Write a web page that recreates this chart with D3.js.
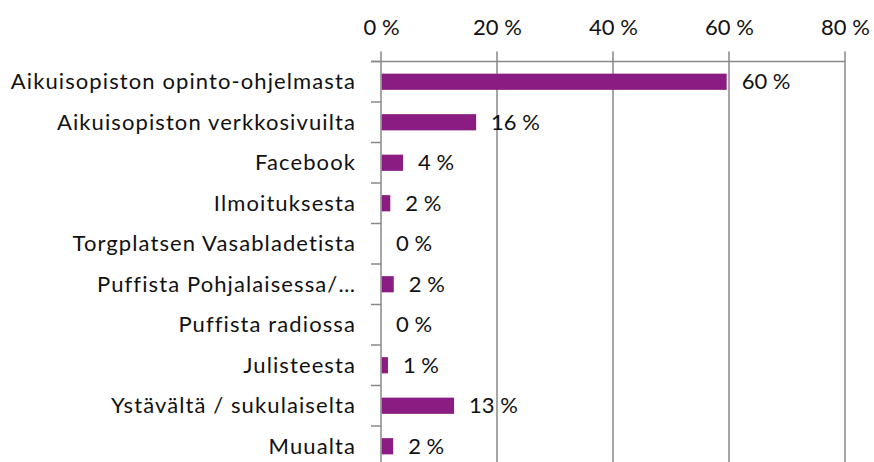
<!DOCTYPE html>
<html>
<head>
<meta charset="utf-8">
<script src="https://cdn.jsdelivr.net/npm/d3@7"></script>
<style>
  body { margin: 0; background: #fff; }
  svg text { font-family: Lato, "Open Sans", sans-serif; fill: #111; }
</style>
</head>
<body>
<script>
const categories = [
    "Aikuisopiston opinto-ohjelmasta",
    "Aikuisopiston verkkosivuilta",
    "Facebook",
    "Ilmoituksesta",
    "Torgplatsen Vasabladetista",
    "Puffista Pohjalaisessa/\u2026",
    "Puffista radiossa",
    "Julisteesta",
    "Ystävältä / sukulaiselta",
    "Muualta"
];
const values = [59.6, 16.4, 3.8, 1.6, 0, 2.2, 0, 1.2, 12.6, 2.1];
const xTicks = [0, 20, 40, 60, 80];

const width = 874, height = 462;
const barColor = "#8b1c82";
const gridColor = "#888";

const svg = d3.select("body").append("svg")
    .attr("width", width)
    .attr("height", height);

const x = d3.scaleLinear().domain([0, 80]).range([381, 845]);
const y = d3.scaleBand().domain(categories).range([61.5, 61.5 + 40.5 * categories.length]);
const barH = y.bandwidth() * 0.4;

// vertical gridlines
svg.append("g").selectAll("line")
    .data(xTicks)
    .enter().append("line")
    .attr("x1", d => x(d)).attr("x2", d => x(d))
    .attr("y1", 51.5).attr("y2", height + 10)
    .attr("stroke", gridColor)
    .attr("stroke-width", 1.5);

// top axis labels
const xAxis = svg.append("g")
    .attr("transform", "translate(0,61.5)")
    .call(d3.axisTop(x).tickValues(xTicks).tickFormat(d => d + " %").tickSize(10).tickPadding(16.5));
xAxis.select(".domain").remove();
xAxis.selectAll(".tick line").remove();
xAxis.selectAll("text")
    .style("font-size", "22px")
    .style("font-family", "Lato, sans-serif")
    .attr("fill", "#111");

// top horizontal line
svg.append("line")
    .attr("x1", 371).attr("x2", x(80))
    .attr("y1", 61.5).attr("y2", 61.5)
    .attr("stroke", gridColor)
    .attr("stroke-width", 1.5);

// category boundary ticks
const bounds = categories.map(c => y(c)).concat([y.range()[1]]);
svg.append("g").selectAll("line")
    .data(bounds)
    .enter().append("line")
    .attr("x1", 371).attr("x2", x(0))
    .attr("y1", d => d).attr("y2", d => d)
    .attr("stroke", gridColor)
    .attr("stroke-width", 1.5);

// bars
svg.append("g").selectAll("rect")
    .data(values)
    .enter().append("rect")
    .attr("x", x(0) + 0.75)
    .attr("y", (d, i) => y(categories[i]) + (y.bandwidth() - barH) / 2)
    .attr("width", d => Math.max(0, x(d) - x(0) - 0.75))
    .attr("height", barH)
    .attr("fill", barColor);

// data labels
svg.append("g").selectAll("text")
    .data(values)
    .enter().append("text")
    .attr("x", d => x(d) + 15)
    .attr("y", (d, i) => y(categories[i]) + y.bandwidth() / 2)
    .attr("dy", "0.35em")
    .style("font-size", "22px")
    .text(d => Math.round(d) + " %");

// category labels
svg.append("g").selectAll("text")
    .data(categories)
    .enter().append("text")
    .attr("x", 356)
    .attr("y", d => y(d) + y.bandwidth() / 2)
    .attr("dy", "0.35em")
    .attr("text-anchor", "end")
    .style("font-size", "22px")
    .style("letter-spacing", "1.1px")
    .text(d => d);
</script>
</body>
</html>
